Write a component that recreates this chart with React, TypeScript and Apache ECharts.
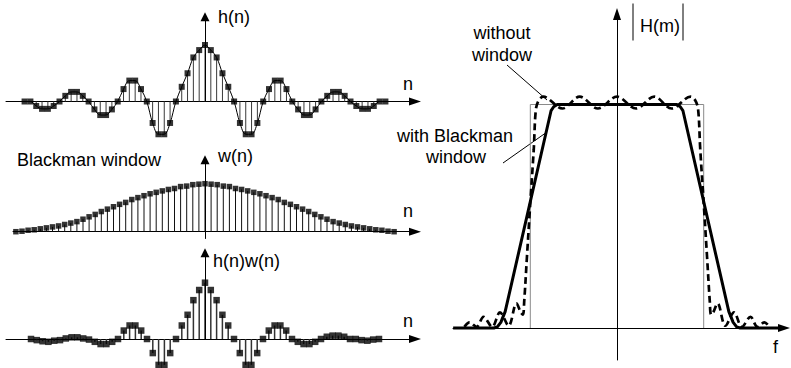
import React, { useEffect, useRef } from "react";
import * as echarts from "echarts";

// ---------------- data ----------------
// h(n): sinc-like ideal impulse response, n = -31 .. 31
const H_N_START = -31;
const hValues = [
  0, 0, -0.08, -0.13, -0.13, -0.08, 0, 0.10, 0.17, 0.17, 0.10, 0, -0.14, -0.24, -0.24, -0.14,
  0, 0.22, 0.37, 0.37, 0.22, 0, -0.38, -0.58, -0.58, -0.38, 0, 0.26, 0.50, 0.78, 0.91,
  1.00,
  0.91, 0.78, 0.50, 0.26, 0, -0.38, -0.58, -0.58, -0.38, 0, 0.22, 0.37, 0.37, 0.22, 0,
  -0.14, -0.24, -0.24, -0.14, 0, 0.10, 0.17, 0.17, 0.10, 0, -0.08, -0.13, -0.13, -0.08, 0, 0,
];

// w(n): Blackman window, n = -31 .. 31
const W_N_START = -31;
const wValues = [
  0.00, 0.01, 0.03, 0.04, 0.06, 0.08, 0.10, 0.12, 0.15, 0.18, 0.21, 0.26, 0.31, 0.36, 0.42, 0.47,
  0.52, 0.57, 0.61, 0.67, 0.71, 0.75, 0.79, 0.82, 0.85, 0.88, 0.90, 0.94, 0.95, 0.98, 0.99,
  1.00,
  0.99, 0.98, 0.95, 0.94, 0.90, 0.88, 0.85, 0.82, 0.79, 0.75, 0.71, 0.67, 0.61, 0.57, 0.52,
  0.47, 0.42, 0.36, 0.31, 0.26, 0.21, 0.18, 0.15, 0.12, 0.10, 0.08, 0.06, 0.04, 0.03, 0.01, 0.00,
];

// h(n)w(n): windowed response, n = -30 .. 30
const HW_N_START = -30;
const hwValues = [
  0, -0.02, -0.04, -0.05, -0.03, -0.02, 0.01, 0.03, 0.03, 0.01, -0.01, -0.05, -0.09, -0.09, -0.05,
  0, 0.15, 0.24, 0.24, 0.15, 0, -0.25, -0.46, -0.46, -0.25, 0, 0.24, 0.43, 0.69, 0.87,
  1.00,
  0.87, 0.69, 0.43, 0.24, 0, -0.25, -0.46, -0.46, -0.25, 0, 0.15, 0.24, 0.24, 0.15,
  0, -0.05, -0.09, -0.09, -0.05, 0, 0.04, 0.06, 0.06, 0.04, 0, 0, -0.02, -0.03, -0.01, 0,
];

// |H(m)| frequency responses (f normalised to cutoff = 1)
const idealF = [-1, -1, 1, 1];
const idealMag = [0, 1, 1, 0];

const blackmanF = [-1.89, -1.42, -1.38, -1.34, -1.29, -0.76, -0.73, -0.69, 0.69, 0.73, 0.76, 1.29, 1.34, 1.38, 1.42, 1.9];
const blackmanMag = [0, 0, 0.005, 0.025, 0.073, 0.973, 0.99, 1, 1, 0.99, 0.973, 0.073, 0.025, 0.005, 0, 0];

const rawF = [
  -1.76, -1.70, -1.62, -1.54, -1.44, -1.35, -1.25, -1.16, -1.11, -1.085,
  -1.07, -1.04, -1.00, -0.96, -0.935, -0.90, -0.85, -0.63, -0.43, -0.22,
  0,
  0.22, 0.43, 0.63, 0.85, 0.90, 0.935, 0.96, 1.00, 1.04, 1.07,
  1.085, 1.11, 1.16, 1.25, 1.35, 1.44, 1.54, 1.62, 1.70, 1.76,
];
const rawMag = [
  0.005, 0.025, 0.005, 0.05, 0.005, 0.07, 0.01, 0.11, 0.07, 0.06,
  0.12, 0.31, 0.56, 0.80, 0.98, 1.02, 1.035, 0.982, 1.035, 0.982,
  1.035,
  0.982, 1.035, 0.982, 1.035, 1.02, 0.98, 0.80, 0.56, 0.31, 0.12,
  0.06, 0.07, 0.11, 0.01, 0.07, 0.005, 0.05, 0.005, 0.025, 0.005,
];

// ---------------- layout ----------------
const W = 791;
const H = 368;
const FONT = '18px "Liberation Sans", Arial, Helvetica, sans-serif';

type Layout = { cx: number; dx: number; y0: number; unit: number; left: number; right: number; top: number; bottom: number };

const leftLayouts: Layout[] = [
  { cx: 205, dx: 5.82, y0: 101.5, unit: 56.5, left: 6, right: 415, top: 10, bottom: 140 },
  { cx: 205, dx: 6.1, y0: 231.7, unit: 48, left: 13, right: 415, top: 150, bottom: 245 },
  { cx: 205, dx: 5.8, y0: 339, unit: 56.3, left: 6, right: 415, top: 244, bottom: 368 },
];
const rightLayout: Layout = { cx: 617, dx: 86.7, y0: 328, unit: 223.5, left: 453, right: 784, top: 14, bottom: 360 };

const arrowTop = [1.5, 1.5, 1.53];
const arrowBottom = [0, -0.15, 0];

function toPairs(start: number, vals: number[]) {
  return vals.map((v, i) => [start + i, v]);
}
function zipPairs(xs: number[], ys: number[]) {
  return xs.map((x, i) => [x, ys[i]]);
}

function gridOf(l: Layout) {
  return { left: l.left, top: l.top, width: l.right - l.left, height: l.bottom - l.top, containLabel: false };
}

const axisArrowLine = {
  show: true,
  onZero: true,
  symbol: ["none", "triangle"],
  symbolSize: [8, 12],
  lineStyle: { color: "#000", width: 1 },
};

function xAxisOf(l: Layout, i: number) {
  return {
    type: "value",
    gridIndex: i,
    min: (l.left - l.cx) / l.dx,
    max: (l.right - l.cx) / l.dx,
    axisLine: axisArrowLine,
    axisTick: { show: false },
    axisLabel: { show: false },
    splitLine: { show: false },
  };
}
function yAxisOf(l: Layout, i: number, visible: boolean) {
  return {
    type: "value",
    gridIndex: i,
    min: (l.y0 - l.bottom) / l.unit,
    max: (l.y0 - l.top) / l.unit,
    show: visible,
    axisLine: axisArrowLine,
    axisTick: { show: false },
    axisLabel: { show: false },
    splitLine: { show: false },
  };
}

function stemSeries(data: number[][], idx: number, color: string, width: number) {
  return {
    type: "custom",
    xAxisIndex: idx,
    yAxisIndex: idx,
    silent: true,
    z: 2,
    data,
    encode: { x: 0, y: 1 },
    renderItem: (_params: any, api: any) => {
      const x = api.value(0);
      const y = api.value(1);
      const p0 = api.coord([x, 0]);
      const p1 = api.coord([x, y]);
      return {
        type: "line",
        shape: { x1: p0[0], y1: p0[1], x2: p1[0], y2: p1[1] },
        style: { stroke: color, lineWidth: width },
      };
    },
  };
}

function markerSeries(data: number[][], idx: number, size: number) {
  return {
    type: "scatter",
    xAxisIndex: idx,
    yAxisIndex: idx,
    silent: true,
    z: 3,
    symbol: "rect",
    symbolSize: size,
    itemStyle: { color: "#000" },
    data,
    markLine: {
      silent: true,
      symbol: ["none", "triangle"],
      symbolSize: 9,
      label: { show: false },
      lineStyle: { color: "#000", width: 1, type: "solid" },
      emphasis: { disabled: true },
      data: [[{ coord: [0, arrowBottom[idx]] }, { coord: [0, arrowTop[idx]] }]],
    },
  };
}

function txt(text: string, x: number, y: number, align: string = "left") {
  return {
    type: "text",
    x,
    y,
    silent: true,
    style: {
      text,
      fill: "#000",
      font: FONT,
      align,
      verticalAlign: "middle",
      textAlign: align,
      textVerticalAlign: "middle",
    },
  };
}
function seg(x1: number, y1: number, x2: number, y2: number) {
  return { type: "line", silent: true, shape: { x1, y1, x2, y2 }, style: { stroke: "#000", lineWidth: 1 } };
}

function buildOption() {
  const hData = toPairs(H_N_START, hValues);
  const wData = toPairs(W_N_START, wValues);
  const hwData = toPairs(HW_N_START, hwValues);

  return {
    animation: false,
    backgroundColor: "#fff",
    grid: [...leftLayouts.map(gridOf), gridOf(rightLayout)],
    xAxis: [...leftLayouts.map((l, i) => xAxisOf(l, i)), xAxisOf(rightLayout, 3)],
    yAxis: [...leftLayouts.map((l, i) => yAxisOf(l, i, false)), yAxisOf(rightLayout, 3, true)],
    series: [
      // h(n)
      {
        type: "line",
        xAxisIndex: 0,
        yAxisIndex: 0,
        data: hData,
        smooth: 0.35,
        symbol: "none",
        silent: true,
        z: 1,
        lineStyle: { color: "#000", width: 1 },
      },
      stemSeries(hData, 0, "#3a3a3a", 1),
      markerSeries(hData, 0, 6),
      // w(n)
      stemSeries(wData, 1, "#111", 1),
      markerSeries(wData, 1, 5.5),
      // h(n)w(n)
      stemSeries(hwData, 2, "#333", 1.5),
      markerSeries(hwData, 2, 6.5),
      // |H(m)|
      {
        type: "line",
        xAxisIndex: 3,
        yAxisIndex: 3,
        data: zipPairs(idealF, idealMag),
        symbol: "none",
        silent: true,
        z: 1,
        lineStyle: { color: "#8a8a8a", width: 1 },
      },
      {
        type: "line",
        xAxisIndex: 3,
        yAxisIndex: 3,
        data: zipPairs(blackmanF, blackmanMag),
        symbol: "none",
        silent: true,
        z: 2,
        lineStyle: { color: "#000", width: 3, join: "round" },
      },
      {
        type: "line",
        xAxisIndex: 3,
        yAxisIndex: 3,
        data: zipPairs(rawF, rawMag),
        smooth: 0.35,
        symbol: "none",
        silent: true,
        z: 3,
        lineStyle: { color: "#000", width: 2.7, type: [7, 4] },
      },
    ],
    graphic: [
      txt("h(n)", 218, 17),
      txt("n", 403, 84),
      txt("Blackman window", 17, 160),
      txt("w(n)", 218, 156),
      txt("n", 403, 211),
      txt("h(n)w(n)", 213, 261),
      txt("n", 403, 321),
      txt("without", 502, 33, "center"),
      txt("window", 502, 55, "center"),
      txt("with Blackman", 455, 136, "center"),
      txt("window", 456, 157, "center"),
      txt("H(m)", 640, 26),
      txt("f", 773, 347),
      seg(507, 65, 547, 100),
      seg(503, 163, 547, 132),
      seg(633, 3.5, 633, 40.5),
      seg(683, 3.5, 683, 40.5),
    ],
  };
}

export default function App() {
  const ref = useRef<HTMLDivElement>(null);
  useEffect(() => {
    if (!ref.current) return;
    const chart = echarts.init(ref.current, null, { renderer: "svg", width: W, height: H });
    chart.setOption(buildOption() as any);
    return () => chart.dispose();
  }, []);
  return (
    <div
      ref={ref}
      style={{ position: "absolute", left: 0, top: 0, width: W, height: H, background: "#fff" }}
    />
  );
}
